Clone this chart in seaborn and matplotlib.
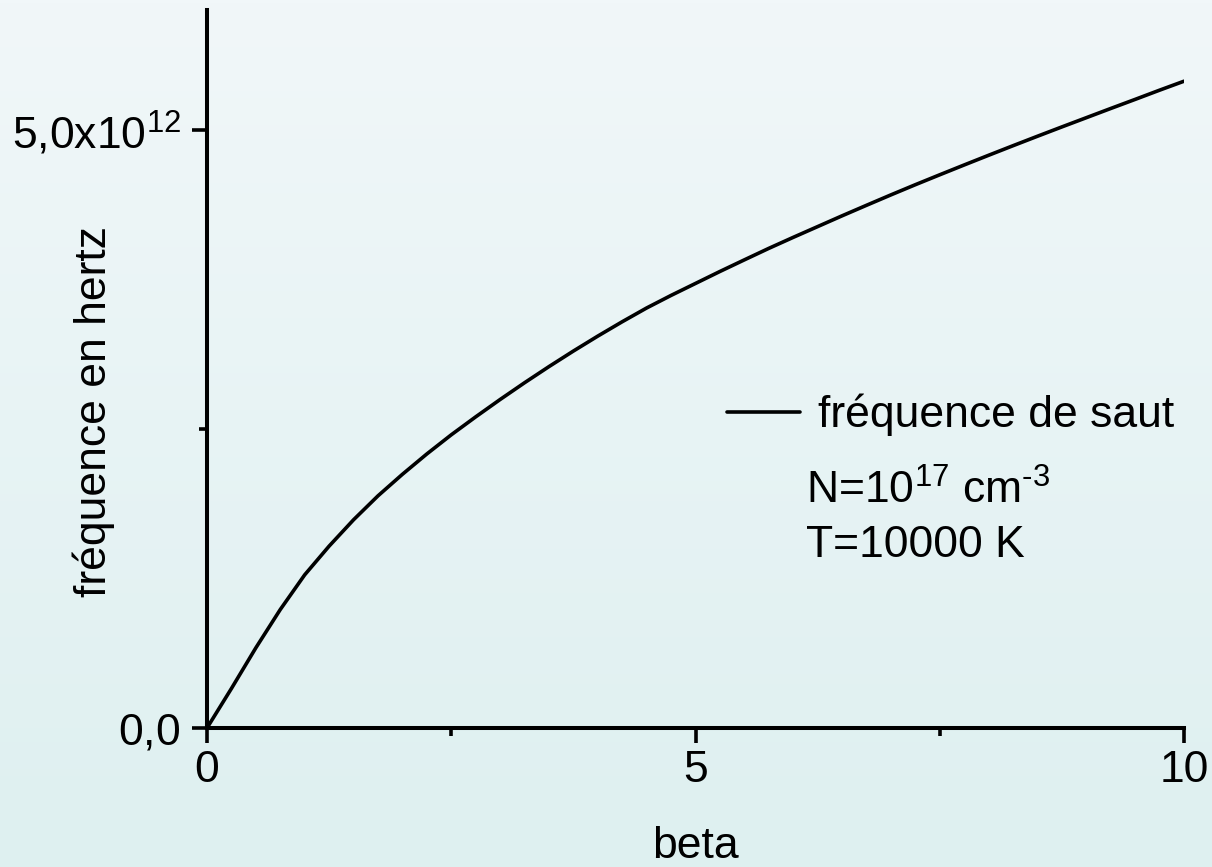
import numpy as np
import pandas as pd
import matplotlib
matplotlib.use("Agg")
import matplotlib.pyplot as plt
import seaborn as sns

# Hopping frequency versus beta
beta = [0.0, 0.25, 0.5, 0.75, 1.0, 1.25, 1.5, 1.75, 2.0, 2.25, 2.5, 2.75,
        3.0, 3.25, 3.5, 3.75, 4.0, 4.25, 4.5, 4.75, 5.0, 5.25, 5.5, 5.75,
        6.0, 6.25, 6.5, 6.75, 7.0, 7.25, 7.5, 7.75, 8.0, 8.25, 8.5, 8.75,
        9.0, 9.25, 9.5, 9.75, 10.0]
freq_e12 = [0.0, 0.33, 0.67, 0.99, 1.28, 1.52, 1.74, 1.94, 2.12, 2.29, 2.45, 2.60,
            2.745, 2.885, 3.02, 3.15, 3.275, 3.395, 3.51, 3.615, 3.715, 3.815, 3.912, 4.008,
            4.10, 4.19, 4.28, 4.368, 4.455, 4.54, 4.623, 4.705, 4.786, 4.866, 4.945, 5.023,
            5.10, 5.177, 5.253, 5.33, 5.405]

series_label = "fréquence de saut"
x_label = "beta"
y_label = "fréquence en hertz"
x_major = [0, 5, 10]
x_major_labels = ["0", "5", "10"]
x_minor = [2.5, 7.5]
y_major = [0.0, 5.0e12]
y_major_labels = [r"$\text{0,0}$", r"$\text{5,0x10}^{12}$"]
y_minor = [2.5e12]
notes = [r"$\text{N=10}^{17}\text{ cm}^{\text{-3}}$", "T=10000 K"]

df = pd.DataFrame({"beta": beta, "freq": np.array(freq_e12) * 1e12})

sns.set_style("ticks")
plt.rcParams["font.family"] = ["Liberation Sans", "DejaVu Sans"]
plt.rcParams["mathtext.fontset"] = "custom"
plt.rcParams["mathtext.rm"] = "Liberation Sans"
plt.rcParams["mathtext.it"] = "Liberation Sans:italic"
plt.rcParams["mathtext.bf"] = "Liberation Sans:bold"
for key in ["text.color", "axes.labelcolor", "xtick.color", "ytick.color",
            "xtick.labelcolor", "ytick.labelcolor"]:
    plt.rcParams[key] = "black"

FS = 32

fig = plt.figure(figsize=(12.12, 8.67), dpi=100)

# soft vertical background gradient
bg = fig.add_axes([0, 0, 1, 1], zorder=-10)
top = np.array([241, 247, 249]) / 255.0
bot = np.array([222, 240, 240]) / 255.0
t = np.linspace(0, 1, 256)[:, None]
grad = (top[None, :] * (1 - t) + bot[None, :] * t)[:, None, :]
bg.imshow(grad, aspect="auto", extent=[0, 1, 0, 1], origin="upper")
bg.set_axis_off()
fig.patch.set_facecolor(bot)

ax = fig.add_axes([207 / 1212, 1 - 728 / 867, (1184 - 207) / 1212, (728 - 10) / 867])
ax.patch.set_alpha(0)

sns.lineplot(data=df, x="beta", y="freq", ax=ax, color="black", linewidth=2.6,
             label=series_label)

ax.set_xlim(0, 10)
ax.set_ylim(0, 6.0e12)
for s in ["top", "right"]:
    ax.spines[s].set_visible(False)
for s in ["left", "bottom"]:
    ax.spines[s].set_linewidth(2.9)
    ax.spines[s].set_color("black")

ax.set_xticks(x_major)
ax.set_xticklabels(x_major_labels)
ax.set_xticks(x_minor, minor=True)
ax.set_yticks(y_major)
ax.set_yticklabels(y_major_labels)
ax.set_yticks(y_minor, minor=True)
ax.tick_params(axis="both", which="major", direction="out", length=11, width=2.6,
               labelsize=FS, pad=5, color="black", labelcolor="black")
ax.tick_params(axis="both", which="minor", direction="out", length=6, width=2.6,
               color="black")
ax.tick_params(axis="y", which="major", pad=8)

ax.set_xlabel(x_label, fontsize=FS)
ax.set_ylabel(y_label, fontsize=FS)
ax.xaxis.set_label_coords(0.5, -0.136)
ax.yaxis.set_label_coords(-0.094, 0.4415)

leg = ax.legend(loc="center left", bbox_to_anchor=(0.532, 0.436), frameon=False,
                fontsize=FS, handlelength=1.65, handletextpad=0.4,
                borderpad=0, borderaxespad=0)
for ln in leg.get_lines():
    ln.set_linewidth(2.6)
for txt in leg.get_texts():
    txt.set_color("black")

ax.text(0.613, 0.313, notes[0], transform=ax.transAxes, fontsize=FS,
        ha="left", va="baseline", color="black")
ax.text(0.613, 0.238, notes[1], transform=ax.transAxes, fontsize=FS,
        ha="left", va="baseline", color="black")

fig.savefig("out.png", dpi=100)
